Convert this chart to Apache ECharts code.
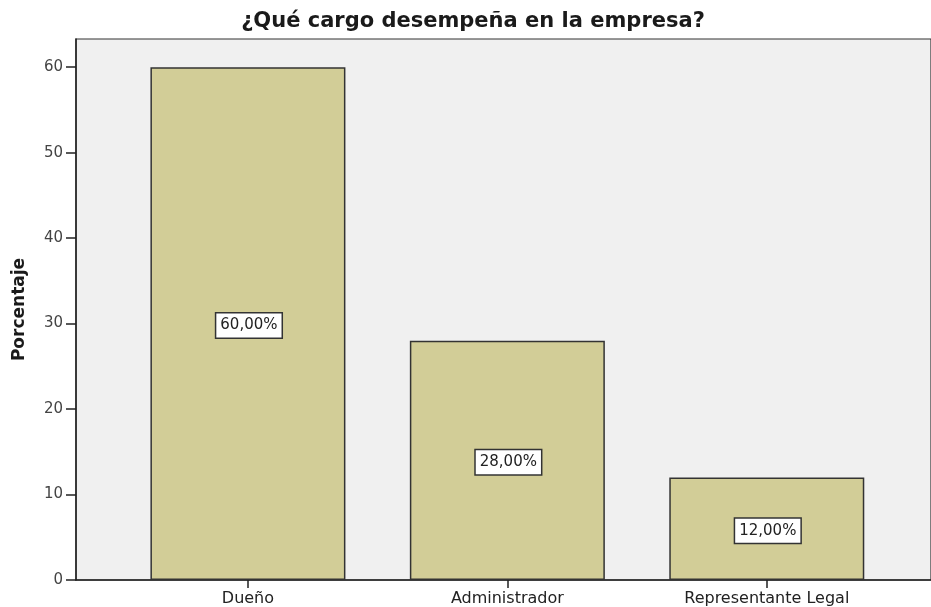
<!DOCTYPE html>
<html>
<head>
<meta charset="utf-8">
<script src="https://cdn.jsdelivr.net/npm/echarts@6/dist/echarts.min.js"></script>
<style>
  html, body { margin: 0; padding: 0; background: #fff; }
  #chart { width: 931px; height: 607px; }
</style>
</head>
<body>
<div id="chart"></div>
<script>
// datos del gráfico
const categories = ['Dueño', 'Administrador', 'Representante Legal'];
const porcentajes = [60, 28, 12];
const yTicks = [0, 10, 20, 30, 40, 50, 60];

const catIndex = categories.map((c, i) => i);
const barData = porcentajes.map((v, i) => [i, v]);

const chart = echarts.init(document.getElementById('chart'));
const option = {
    animation: false,
    title: {
        text: '¿Qué cargo desempeña en la empresa?',
        left: 468,
        textAlign: 'center',
        top: 6,
        textStyle: {
            fontFamily: 'DejaVu Sans',
            fontSize: 21,
            fontWeight: 'bold',
            color: '#1a1a1a'
        }
    },
    grid: {
        left: 76,
        right: -2,
        top: 39,
        bottom: 27,
        show: true,
        backgroundColor: '#f0f0f0',
        borderColor: '#333',
        borderWidth: 1.2
    },
    xAxis: {
        type: 'value',
        min: -0.6627,
        max: 2.633,
        splitLine: { show: false },
        axisLine: { show: true, onZero: false, lineStyle: { color: '#222', width: 1.5 } },
        axisTick: { show: true, customValues: catIndex, length: 8, lineStyle: { color: '#222', width: 1.5 } },
        axisLabel: {
            customValues: catIndex,
            formatter: v => categories[Math.round(v)],
            margin: 11,
            fontFamily: 'DejaVu Sans',
            fontSize: 16,
            color: '#222'
        }
    },
    yAxis: {
        type: 'value',
        min: 0,
        max: 63.3,
        name: 'Porcentaje',
        nameLocation: 'middle',
        nameGap: 48,
        nameTextStyle: {
            fontFamily: 'DejaVu Sans',
            fontSize: 17,
            fontWeight: 'bold',
            color: '#1a1a1a'
        },
        splitLine: { show: false },
        axisLine: { show: true, onZero: false, lineStyle: { color: '#222', width: 1.5 } },
        axisTick: { show: true, customValues: yTicks, length: 10, lineStyle: { color: '#222', width: 1.5 } },
        axisLabel: {
            customValues: yTicks,
            margin: 13,
            fontFamily: 'DejaVu Sans',
            fontSize: 15,
            color: '#444'
        }
    },
    series: [{
        type: 'bar',
        data: barData,
        barWidth: 195,
        itemStyle: {
            color: '#d2cd97',
            borderColor: '#333',
            borderWidth: 1.5
        },
        label: {
            show: true,
            position: 'inside',
            offset: [1, 2],
            formatter: p => p.value[1].toFixed(2).replace('.', ',') + '%',
            fontFamily: 'DejaVu Sans',
            fontSize: 15,
            color: '#222',
            backgroundColor: '#fff',
            borderColor: '#333',
            borderWidth: 1.5,
            padding: [5, 4, 4, 4]
        }
    }]
};
chart.setOption(option);
</script>
</body>
</html>
